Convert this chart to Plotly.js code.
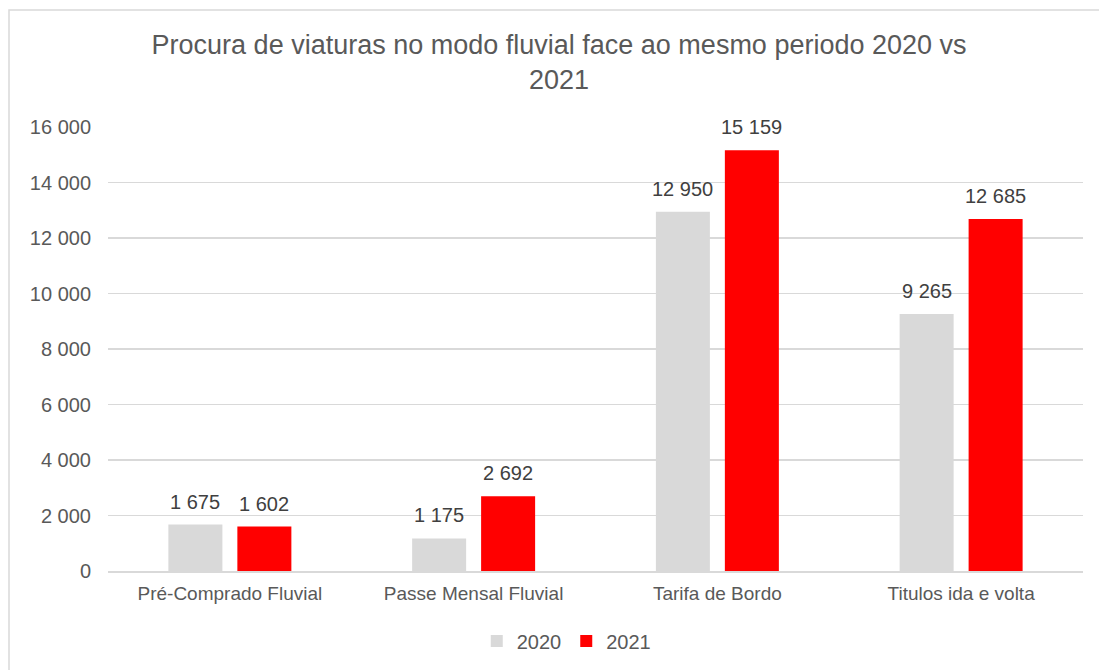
<!DOCTYPE html>
<html>
<head>
<meta charset="utf-8">
<script src="https://cdn.plot.ly/plotly-3.0.1.min.js"></script>
<style>html,body{margin:0;padding:0;background:#fff;}#chart{width:1099px;height:670px;}</style>
</head>
<body>
<div id="chart"></div>
<script>
const categories = ["Pré-Comprado Fluvial", "Passe Mensal Fluvial", "Tarifa de Bordo", "Titulos ida e volta"];
const values2020 = [1675, 1175, 12950, 9265];
const values2021 = [1602, 2692, 15159, 12685];
const seriesNames = ["2020", "2021"];
const tickVals = [0, 2000, 4000, 6000, 8000, 10000, 12000, 14000, 16000];

function fmt(v) {
  return String(v).replace(/\B(?=(\d{3})+(?!\d))/g, " ");
}

const W = 1099, H = 670;
const margin = {l: 108, r: 16, t: 127, b: 99, autoexpand: false};
const bargap = 0.434, bargroupgap = 0.217;
const plotW = W - margin.l - margin.r;
const slot = plotW / categories.length * (1 - bargap) / 2;

const txtFont = {family: "Liberation Sans, Arial, sans-serif", size: 20, color: "#404040"};

const traces = [
  {type: "bar", name: seriesNames[0], x: categories, y: values2020, marker: {color: "#D9D9D9"}, hoverinfo: "x+y"},
  {type: "bar", name: seriesNames[1], x: categories, y: values2021, marker: {color: "#FF0000"}, hoverinfo: "x+y"}
];

const annotations = [];
[values2020, values2021].forEach(function (vals, s) {
  vals.forEach(function (v, i) {
    annotations.push({
      x: categories[i], y: v, xref: "x", yref: "y",
      text: fmt(v), showarrow: false, font: txtFont,
      xanchor: "center", yanchor: "bottom",
      xshift: (s === 0 ? -1 : 1) * slot / 2, yshift: 10
    });
  });
});

const layout = {
  width: W, height: H,
  paper_bgcolor: "#fff", plot_bgcolor: "#fff",
  margin: margin,
  font: {family: "Liberation Sans, Arial, sans-serif", color: "#595959", size: 20},
  title: {
    text: "Procura de viaturas no modo fluvial face ao mesmo periodo 2020 vs<br>2021",
    font: {family: "Liberation Sans, Arial, sans-serif", size: 27, color: "#595959"},
    x: 0.5087, xanchor: "center", y: 0.919, yanchor: "top", yref: "container"
  },
  barmode: "group",
  bargap: bargap,
  bargroupgap: bargroupgap,
  xaxis: {
    showgrid: false, showline: true, linecolor: "#D9D9D9", linewidth: 1.5,
    ticks: "", tickfont: {size: 19, color: "#595959"}, ticklabelstandoff: 5,
    zeroline: false
  },
  yaxis: {
    range: [0, 16000], tickvals: tickVals, ticktext: tickVals.map(fmt),
    showgrid: true, gridcolor: "#D9D9D9", gridwidth: 1.5, zeroline: false,
    showline: false, ticks: "", ticklabelstandoff: 16,
    tickfont: {size: 20, color: "#595959"}
  },
  showlegend: true,
  legend: {
    orientation: "h", x: 0.47, xanchor: "center", yref: "container", y: 1 - 641 / H, yanchor: "middle",
    font: {size: 20, color: "#595959"}, itemwidth: 30, traceorder: "normal"
  },
  annotations: annotations,
  shapes: [
    {type: "rect", xref: "paper", yref: "paper", x0: (9 - 108) / plotW, x1: 1.05, y0: -0.5, y1: 1 + (127 - 10) / 444,
     line: {color: "#D9D9D9", width: 1.5}, fillcolor: "rgba(0,0,0,0)", layer: "below"}
  ]
};

Plotly.newPlot("chart", traces, layout, {displayModeBar: false, staticPlot: true});
</script>
</body>
</html>
